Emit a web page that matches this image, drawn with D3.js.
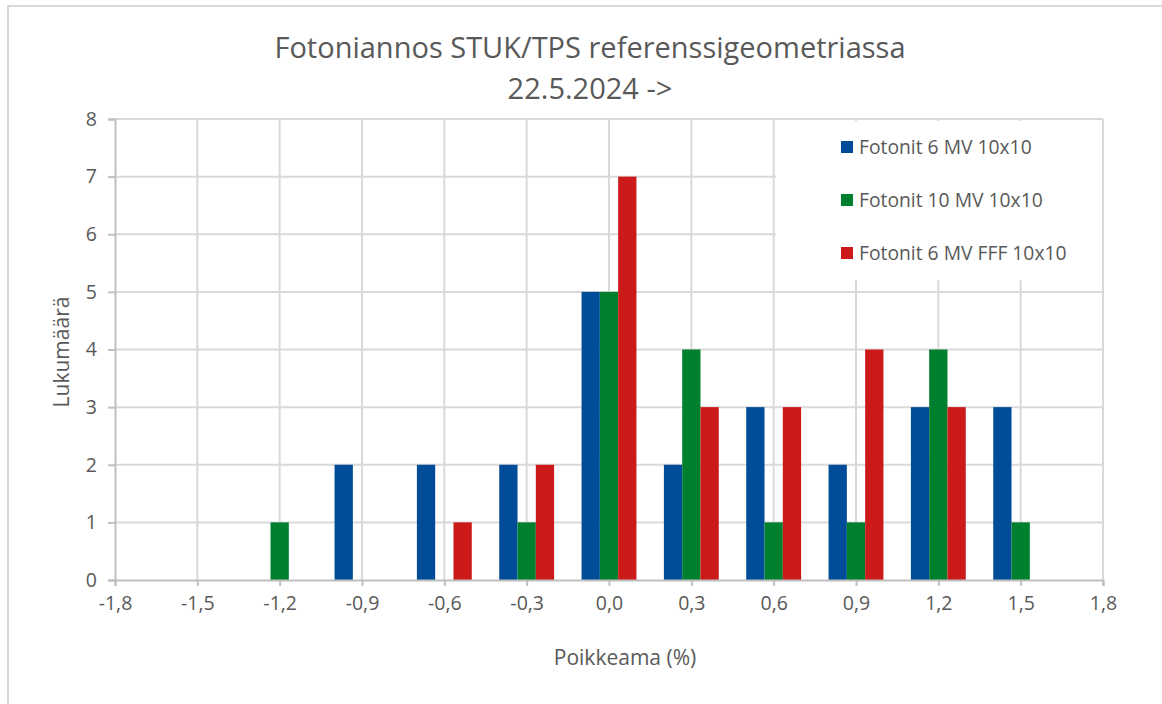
<!DOCTYPE html>
<html>
<head>
<meta charset="utf-8">
<script src="https://cdn.jsdelivr.net/npm/d3@7"></script>
<style>
  body { margin: 0; background: #fff; }
  text { font-family: "Open Sans", Lato, sans-serif; fill: #595959; }
</style>
</head>
<body>
<div id="chart"></div>
<script>
// Chart data
const categories = [-1.5, -1.2, -0.9, -0.6, -0.3, 0.0, 0.3, 0.6, 0.9, 1.2, 1.5];
const seriesNames = ["Fotonit 6 MV 10x10", "Fotonit 10 MV 10x10", "Fotonit 6 MV FFF 10x10"];
const seriesColors = ["#004c99", "#00802e", "#cc1a1a"];
const values6MV = [0, 0, 2, 2, 2, 5, 2, 3, 2, 3, 3];
const values10MV = [0, 1, 0, 0, 1, 5, 4, 1, 1, 4, 1];
const values6FFF = [0, 0, 0, 1, 2, 7, 3, 3, 4, 3, 0];
const xTicks = [-1.8, -1.5, -1.2, -0.9, -0.6, -0.3, 0.0, 0.3, 0.6, 0.9, 1.2, 1.5, 1.8];
const yTicks = [0, 1, 2, 3, 4, 5, 6, 7, 8];

const allSeries = [values6MV, values10MV, values6FFF];

const width = 1162, height = 704;
const margin = { top: 119, right: 59, bottom: 124, left: 115 };

const svg = d3.select("#chart").append("svg")
    .attr("width", width)
    .attr("height", height);

// outer frame of the chart area
svg.append("rect")
    .attr("x", 8).attr("y", 6)
    .attr("width", width + 10).attr("height", height + 10)
    .attr("fill", "none")
    .attr("stroke", "#d9d9d9")
    .attr("stroke-width", 2);

const x = d3.scaleLinear()
    .domain([-1.8, 1.8])
    .range([margin.left, width - margin.right]);

const y = d3.scaleLinear()
    .domain([0, 8])
    .range([height - margin.bottom, margin.top]);

const fmt = d => d3.format(".1f")(d).replace(".", ",").replace("−", "-");

// gridlines
svg.append("g")
    .selectAll("line.h")
    .data(yTicks.slice(1))
    .join("line")
    .attr("x1", x(-1.8)).attr("x2", x(1.8))
    .attr("y1", d => y(d)).attr("y2", d => y(d))
    .attr("stroke", "#d9d9d9").attr("stroke-width", 2);

svg.append("g")
    .selectAll("line.v")
    .data(xTicks.slice(1))
    .join("line")
    .attr("x1", d => x(d)).attr("x2", d => x(d))
    .attr("y1", y(0)).attr("y2", y(8))
    .attr("stroke", "#d9d9d9").attr("stroke-width", 2);

// bars
const step = x(0.3) - x(0);
const barW = step * 2 / 9;

allSeries.forEach((vals, i) => {
    svg.append("g")
        .selectAll("rect")
        .data(categories.map((c, j) => ({ c: c, v: vals[j] })).filter(d => d.v > 0))
        .join("rect")
        .attr("x", d => x(d.c) + (i - 1.5) * barW)
        .attr("width", barW)
        .attr("y", d => y(d.v))
        .attr("height", d => y(0) - y(d.v))
        .attr("fill", seriesColors[i]);
});

// legend box hides the gridlines behind it
const legendX = 776, legendY = 121;
svg.append("rect")
    .attr("x", legendX).attr("y", legendY)
    .attr("width", x(1.8) - legendX - 1).attr("height", 159)
    .attr("fill", "#fff");

const legend = svg.append("g")
    .selectAll("g")
    .data(seriesNames)
    .join("g")
    .attr("transform", (d, i) => `translate(841,${147 + i * 53})`);

legend.append("rect")
    .attr("x", 0).attr("y", -6)
    .attr("width", 12).attr("height", 12)
    .attr("fill", (d, i) => seriesColors[i]);

legend.append("text")
    .attr("x", 18).attr("y", 0)
    .attr("dy", "0.35em")
    .style("font-size", "19.3px")
    .text(d => d);

// axes
const xAxis = svg.append("g")
    .attr("transform", `translate(0,${y(0)})`)
    .call(d3.axisBottom(x).tickValues(xTicks).tickSize(6).tickPadding(10).tickFormat(fmt));

const yAxis = svg.append("g")
    .attr("transform", `translate(${x(-1.8)},0)`)
    .call(d3.axisLeft(y).tickValues(yTicks).tickSize(7).tickPadding(11).tickFormat(d3.format("d")));

[xAxis, yAxis].forEach(a => {
    a.select(".domain").attr("stroke", "#bfbfbf").attr("stroke-width", 2);
    a.selectAll(".tick line").attr("stroke", "#bfbfbf").attr("stroke-width", 2);
    a.selectAll(".tick text")
        .style("font-family", "'Open Sans', Lato, sans-serif")
        .style("font-size", "19.5px")
        .attr("fill", "#595959");
});

// titles
svg.append("text")
    .attr("x", 590).attr("y", 58)
    .attr("text-anchor", "middle")
    .style("font-size", "29px")
    .text("Fotoniannos STUK/TPS referenssigeometriassa");

svg.append("text")
    .attr("x", 590).attr("y", 99)
    .attr("text-anchor", "middle")
    .style("font-size", "29px")
    .text("22.5.2024 ->");

svg.append("text")
    .attr("x", 625).attr("y", 665)
    .attr("text-anchor", "middle")
    .style("font-size", "21px")
    .text("Poikkeama (%)");

svg.append("text")
    .attr("transform", "translate(69,352) rotate(-90)")
    .attr("text-anchor", "middle")
    .style("font-size", "21px")
    .text("Lukumäärä");
</script>
</body>
</html>
